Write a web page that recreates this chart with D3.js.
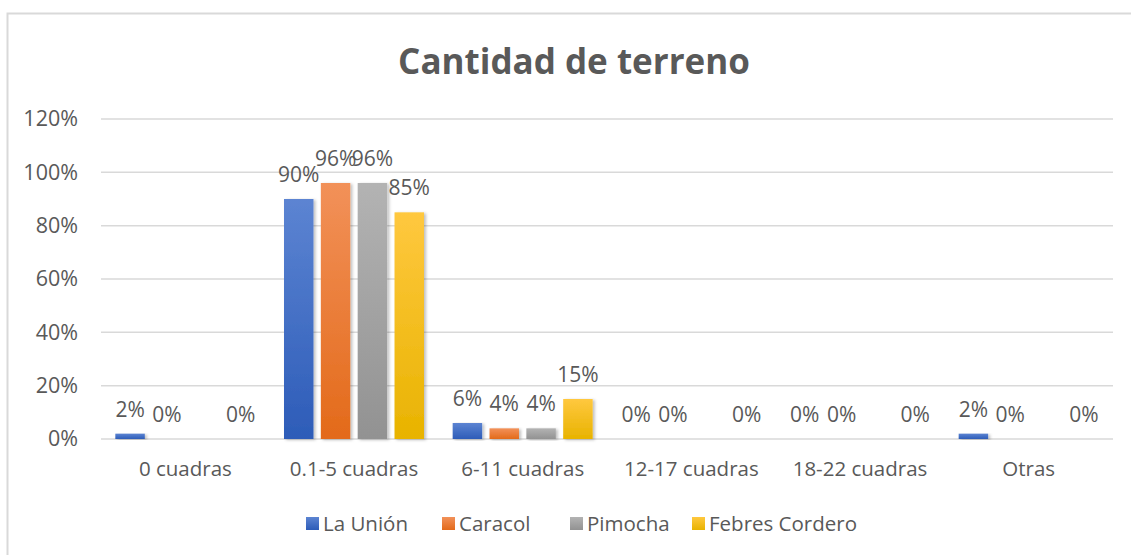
<!DOCTYPE html>
<html>
<head>
<meta charset="utf-8">
<script src="https://cdn.jsdelivr.net/npm/d3@7"></script>
<style>
  body { margin: 0; background: #fff; }
  text { font-family: "Open Sans", sans-serif; fill: #595959; }
</style>
</head>
<body>
<div id="chart"></div>
<script>
// data
const categories = ["0 cuadras", "0.1-5 cuadras", "6-11 cuadras", "12-17 cuadras", "18-22 cuadras", "Otras"];
const seriesNames = ["La Unión", "Caracol", "Pimocha", "Febres Cordero"];
const laUnion = [0.02, 0.90, 0.06, 0, 0, 0.02];
const caracol = [0, 0.96, 0.04, 0, 0, 0];
const pimocha = [null, 0.96, 0.04, null, null, null];
const febres = [0, 0.85, 0.15, 0, 0, 0];
const yTicks = [0, 0.2, 0.4, 0.6, 0.8, 1.0, 1.2];

const seriesValues = [laUnion, caracol, pimocha, febres];
const gradStops = [
    ["#5c84d2", "#2d5cb8"],
    ["#f29159", "#e36a1a"],
    ["#b3b3b3", "#929292"],
    ["#ffc83f", "#e8b300"]
];

const width = 1131, height = 555;
const svg = d3.select("#chart").append("svg")
    .attr("width", width)
    .attr("height", height);

svg.append("rect").attr("width", width).attr("height", height).attr("fill", "#fff");

// chart border (cropped on the right and bottom)
svg.append("rect")
    .attr("x", 7.5).attr("y", 13.5)
    .attr("width", 1300).attr("height", 700)
    .attr("fill", "none")
    .attr("stroke", "#d9d9d9")
    .attr("stroke-width", 2);

const defs = svg.append("defs");
gradStops.forEach((c, i) => {
    const g = defs.append("linearGradient")
        .attr("id", "grad" + i)
        .attr("x1", 0).attr("y1", 0).attr("x2", 0).attr("y2", 1);
    g.append("stop").attr("offset", "0%").attr("stop-color", c[0]);
    g.append("stop").attr("offset", "100%").attr("stop-color", c[1]);
});
const shadow = defs.append("filter").attr("id", "shadow")
    .attr("x", "-20%").attr("y", "-5%").attr("width", "150%").attr("height", "115%");
shadow.append("feDropShadow")
    .attr("dx", 2).attr("dy", 1).attr("stdDeviation", 1.5)
    .attr("flood-color", "#000").attr("flood-opacity", 0.25);

// scales
const x0 = d3.scaleBand()
    .domain(categories)
    .range([101, 1113]);

const groupWidth = 140;
const x1 = d3.scaleBand()
    .domain(seriesNames)
    .range([(x0.bandwidth() - groupWidth) / 2, (x0.bandwidth() + groupWidth) / 2])
    .paddingInner(0.2);

const y = d3.scaleLinear()
    .domain([0, 1.2])
    .range([439, 119]);

// gridlines
svg.append("g")
    .selectAll("line")
    .data(yTicks)
    .enter()
    .append("line")
    .attr("x1", 101).attr("x2", 1113)
    .attr("y1", d => y(d)).attr("y2", d => y(d))
    .attr("stroke", "#d9d9d9")
    .attr("stroke-width", 1.5);

// y axis labels
const yAxis = d3.axisLeft(y)
    .tickValues(yTicks)
    .tickFormat(d3.format(".0%"))
    .tickSize(0)
    .tickPadding(23);
const yg = svg.append("g")
    .attr("transform", "translate(101,0)")
    .call(yAxis);
yg.select(".domain").remove();
yg.selectAll("text")
    .style("font-size", "21.5px")
    .style("font-family", "'Open Sans', sans-serif")
    .attr("fill", "#595959");

// x axis labels
const xAxis = d3.axisBottom(x0).tickSize(0).tickPadding(22);
const xg = svg.append("g")
    .attr("transform", "translate(0,439)")
    .call(xAxis);
xg.select(".domain").remove();
xg.selectAll("text")
    .style("font-size", "20.5px")
    .style("font-family", "'Open Sans', sans-serif")
    .attr("fill", "#595959");

// bars
const rows = [];
categories.forEach((c, ci) => {
    seriesNames.forEach((s, si) => {
        rows.push({ cat: c, series: s, si: si, value: seriesValues[si][ci] });
    });
});

const groups = svg.append("g");
groups.selectAll("rect")
    .data(rows.filter(d => d.value))
    .enter()
    .append("rect")
    .attr("x", d => x0(d.cat) + x1(d.series))
    .attr("y", d => y(d.value))
    .attr("width", x1.bandwidth())
    .attr("height", d => y(0) - y(d.value))
    .attr("fill", d => "url(#grad" + d.si + ")")
    .attr("filter", "url(#shadow)");

// data labels
svg.append("g")
    .selectAll("text")
    .data(rows.filter(d => d.value !== null))
    .enter()
    .append("text")
    .attr("x", d => x0(d.cat) + x1(d.series) + x1.bandwidth() / 2)
    .attr("y", d => y(d.value) - 17)
    .attr("text-anchor", "middle")
    .style("font-size", "21px")
    .text(d => d3.format(".0%")(d.value));

// title
svg.append("text")
    .attr("x", 574)
    .attr("y", 74)
    .attr("text-anchor", "middle")
    .style("font-size", "35px")
    .style("font-weight", "bold")
    .text("Cantidad de terreno");

// legend
const legendX = [306, 442, 570, 692];
const legend = svg.append("g");
seriesNames.forEach((s, i) => {
    legend.append("rect")
        .attr("x", legendX[i]).attr("y", 517)
        .attr("width", 13).attr("height", 13)
        .attr("fill", "url(#grad" + i + ")");
    legend.append("text")
        .attr("x", legendX[i] + 17)
        .attr("y", 531)
        .style("font-size", "20.5px")
        .text(s);
});
</script>
</body>
</html>
